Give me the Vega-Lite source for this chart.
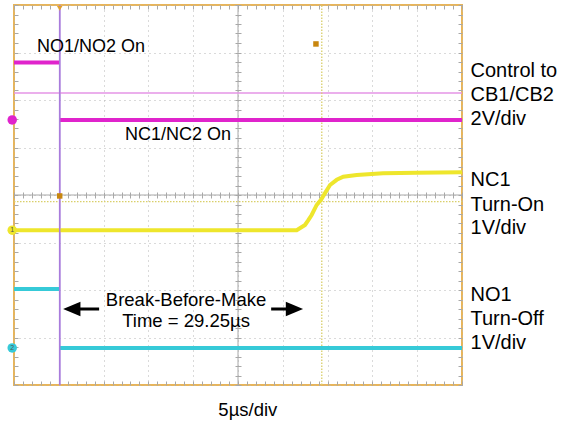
{
  "$schema": "https://vega.github.io/schema/vega-lite/v6.json",
  "width": 448,
  "height": 380,
  "autosize": {"type": "none"},
  "padding": {"left": 14, "top": 5, "right": 108, "bottom": 40},
  "background": "white",
  "config": {"view": {"stroke": "#E8B55A", "strokeWidth": 2}, "font": "Liberation Sans"},
  "resolve": {"axis": {"x": "independent", "y": "independent"}, "scale": {"color": "independent"}},
  "datasets": {
    "center": [
      {"x": 0, "x2": 50, "y": 0, "y2": 0},
      {"x": 25, "x2": 25, "y": -4, "y2": 4}
    ],
    "cursorsSolid": [
      {"name": "ctrl", "x": 5.1, "x2": 5.1, "y": -4, "y2": 4},
      {"name": "level", "x": 0, "x2": 50, "y": 2.15, "y2": 2.15}
    ],
    "cursorsDotted": [
      {"name": "v", "x": 34.35, "x2": 34.35, "y": -4, "y2": 4},
      {"name": "h", "x": 0, "x2": 50, "y": -0.14, "y2": -0.14}
    ],
    "traces": [
      {"series": "control", "seg": "c1", "i": 1, "x": 0, "y": 2.79},
      {"series": "control", "seg": "c1", "i": 2, "x": 5.1, "y": 2.79},
      {"series": "control", "seg": "c2", "i": 3, "x": 5.1, "y": 1.58},
      {"series": "control", "seg": "c2", "i": 4, "x": 50, "y": 1.58},
      {"series": "nc1", "seg": "n", "i": 1, "x": 0, "y": -0.74},
      {"series": "nc1", "seg": "n", "i": 2, "x": 31.55, "y": -0.74},
      {"series": "nc1", "seg": "n", "i": 3, "x": 32.48, "y": -0.63},
      {"series": "nc1", "seg": "n", "i": 4, "x": 32.85, "y": -0.53},
      {"series": "nc1", "seg": "n", "i": 5, "x": 33.22, "y": -0.42},
      {"series": "nc1", "seg": "n", "i": 6, "x": 33.78, "y": -0.21},
      {"series": "nc1", "seg": "n", "i": 7, "x": 34.26, "y": -0.1},
      {"series": "nc1", "seg": "n", "i": 8, "x": 34.71, "y": 0.04},
      {"series": "nc1", "seg": "n", "i": 9, "x": 35.27, "y": 0.21},
      {"series": "nc1", "seg": "n", "i": 10, "x": 36.02, "y": 0.32},
      {"series": "nc1", "seg": "n", "i": 11, "x": 36.75, "y": 0.385},
      {"series": "nc1", "seg": "n", "i": 12, "x": 38.25, "y": 0.42},
      {"series": "nc1", "seg": "n", "i": 13, "x": 41.18, "y": 0.457},
      {"series": "nc1", "seg": "n", "i": 14, "x": 45, "y": 0.47},
      {"series": "nc1", "seg": "n", "i": 15, "x": 50, "y": 0.48},
      {"series": "no1", "seg": "o1", "i": 1, "x": 0, "y": -1.98},
      {"series": "no1", "seg": "o1", "i": 2, "x": 5.1, "y": -1.98},
      {"series": "no1", "seg": "o2", "i": 3, "x": 5.1, "y": -3.22},
      {"series": "no1", "seg": "o2", "i": 4, "x": 50, "y": -3.22}
    ],
    "arrows": [
      {"x": 9.5, "x2": 7.0, "y": -2.4},
      {"x": 28.7, "x2": 30.8, "y": -2.4}
    ],
    "headsLeft": [{"x": 6.45, "y": -2.4}],
    "headsRight": [{"x": 31.3, "y": -2.4}],
    "chanMarkers": [
      {"ch": "control", "label": "", "x": -0.2, "y": 1.58},
      {"ch": "nc1", "label": "1", "x": -0.2, "y": -0.74},
      {"ch": "no1", "label": "2", "x": -0.2, "y": -3.22}
    ],
    "orangeMarks": [
      {"x": 33.7, "y": 3.18},
      {"x": 5.1, "y": -0.02}
    ],
    "trigger": [{"x": 5.1, "y": 3.93}],
    "leftTexts": [
      {"x": 2.57, "y": 3.12, "t": "NO1/NO2 On"},
      {"x": 12.39, "y": 1.26, "t": "NC1/NC2 On"}
    ],
    "centerTexts": [
      {"x": 19.2, "y": -2.21, "t": "Break-Before-Make"},
      {"x": 19.2, "y": -2.646, "t": "Time = 29.25µs"},
      {"x": 26.1, "y": -4.53, "t": "5µs/div"}
    ],
    "rightTexts": [
      {"x": 50.95, "y": 2.62, "t": "Control to"},
      {"x": 50.95, "y": 2.11, "t": "CB1/CB2"},
      {"x": 50.95, "y": 1.61, "t": "2V/div"},
      {"x": 50.95, "y": 0.31, "t": "NC1"},
      {"x": 50.95, "y": -0.2, "t": "Turn-On"},
      {"x": 50.95, "y": -0.7, "t": "1V/div"},
      {"x": 50.95, "y": -2.11, "t": "NO1"},
      {"x": 50.95, "y": -2.62, "t": "Turn-Off"},
      {"x": 50.95, "y": -3.12, "t": "1V/div"}
    ]
  },
  "layer": [
    {
      "data": {"name": "center"},
      "mark": {"type": "rule", "color": "#A8A8A8", "strokeWidth": 1},
      "encoding": {
        "x": {"field": "x", "type": "quantitative", "scale": {"domain": [0, 50], "nice": false, "zero": false},
          "axis": {"orient": "bottom", "values": [0, 5, 10, 15, 20, 25, 30, 35, 40, 45, 50], "grid": true, "gridColor": "#B4B4B4", "gridDash": [1, 4], "gridWidth": 1, "ticks": false, "labels": false, "domain": false, "title": null}},
        "x2": {"field": "x2"},
        "y": {"field": "y", "type": "quantitative", "scale": {"domain": [-4, 4], "nice": false, "zero": false},
          "axis": {"orient": "left", "values": [-4, -3, -2, -1, 0, 1, 2, 3, 4], "grid": true, "gridColor": "#B4B4B4", "gridDash": [1, 4], "gridWidth": 1, "ticks": false, "labels": false, "domain": false, "title": null}},
        "y2": {"field": "y2"}
      }
    },
    {
      "data": {"name": "cursorsSolid"},
      "mark": {"type": "rule", "strokeWidth": 1.5},
      "encoding": {
        "x": {"field": "x", "type": "quantitative", "scale": {"domain": [0, 50], "nice": false, "zero": false},
          "axis": {"orient": "top", "offset": -380, "values": [0,1,2,3,4,5,6,7,8,9,10,11,12,13,14,15,16,17,18,19,20,21,22,23,24,25,26,27,28,29,30,31,32,33,34,35,36,37,38,39,40,41,42,43,44,45,46,47,48,49,50], "tickSize": 4, "tickColor": "#A8A8A8", "grid": false, "labels": false, "domain": false, "title": null}},
        "x2": {"field": "x2"},
        "y": {"field": "y", "type": "quantitative", "scale": {"domain": [-4, 4], "nice": false, "zero": false},
          "axis": {"orient": "right", "offset": -448, "values": [-4,-3.8,-3.6,-3.4,-3.2,-3,-2.8,-2.6,-2.4,-2.2,-2,-1.8,-1.6,-1.4,-1.2,-1,-0.8,-0.6,-0.4,-0.2,0,0.2,0.4,0.6,0.8,1,1.2,1.4,1.6,1.8,2,2.2,2.4,2.6,2.8,3,3.2,3.4,3.6,3.8,4], "tickSize": 4, "tickColor": "#A8A8A8", "grid": false, "labels": false, "domain": false, "title": null}},
        "y2": {"field": "y2"},
        "color": {"field": "name", "type": "nominal", "scale": {"domain": ["ctrl", "level"], "range": ["#A97CDC", "#E494E6"]}, "legend": null}
      }
    },
    {
      "data": {"name": "cursorsDotted"},
      "mark": {"type": "rule", "strokeWidth": 1.3, "strokeDash": [1.5, 1.5], "color": "#D9CF6A"},
      "encoding": {
        "x": {"field": "x", "type": "quantitative", "scale": {"domain": [0, 50], "nice": false, "zero": false},
          "axis": {"orient": "bottom", "offset": -380, "values": [0,1,2,3,4,5,6,7,8,9,10,11,12,13,14,15,16,17,18,19,20,21,22,23,24,25,26,27,28,29,30,31,32,33,34,35,36,37,38,39,40,41,42,43,44,45,46,47,48,49,50], "tickSize": 4, "tickColor": "#A8A8A8", "grid": false, "labels": false, "domain": false, "title": null}},
        "x2": {"field": "x2"},
        "y": {"field": "y", "type": "quantitative", "scale": {"domain": [-4, 4], "nice": false, "zero": false},
          "axis": {"orient": "left", "offset": -448, "values": [-4,-3.8,-3.6,-3.4,-3.2,-3,-2.8,-2.6,-2.4,-2.2,-2,-1.8,-1.6,-1.4,-1.2,-1,-0.8,-0.6,-0.4,-0.2,0,0.2,0.4,0.6,0.8,1,1.2,1.4,1.6,1.8,2,2.2,2.4,2.6,2.8,3,3.2,3.4,3.6,3.8,4], "tickSize": 4, "tickColor": "#A8A8A8", "grid": false, "labels": false, "domain": false, "title": null}},
        "y2": {"field": "y2"}
      }
    },
    {
      "data": {"name": "traces"},
      "mark": {"type": "line", "strokeWidth": 4, "clip": true, "interpolate": "linear"},
      "encoding": {
        "x": {"field": "x", "type": "quantitative", "scale": {"domain": [0, 50], "nice": false, "zero": false},
          "axis": {"orient": "bottom", "offset": -193, "values": [0,1,2,3,4,5,6,7,8,9,10,11,12,13,14,15,16,17,18,19,20,21,22,23,24,25,26,27,28,29,30,31,32,33,34,35,36,37,38,39,40,41,42,43,44,45,46,47,48,49,50], "tickSize": 6, "tickColor": "#A8A8A8", "grid": false, "labels": false, "domain": false, "title": null}},
        "y": {"field": "y", "type": "quantitative", "scale": {"domain": [-4, 4], "nice": false, "zero": false},
          "axis": {"orient": "left", "offset": -227, "values": [-4,-3.8,-3.6,-3.4,-3.2,-3,-2.8,-2.6,-2.4,-2.2,-2,-1.8,-1.6,-1.4,-1.2,-1,-0.8,-0.6,-0.4,-0.2,0,0.2,0.4,0.6,0.8,1,1.2,1.4,1.6,1.8,2,2.2,2.4,2.6,2.8,3,3.2,3.4,3.6,3.8,4], "tickSize": 6, "tickColor": "#A8A8A8", "grid": false, "labels": false, "domain": false, "title": null}},
        "color": {"field": "series", "type": "nominal", "scale": {"domain": ["control", "nc1", "no1"], "range": ["#E024CC", "#EEE62C", "#36CAD8"]}, "legend": null},
        "detail": {"field": "seg", "type": "nominal"},
        "order": {"field": "i", "type": "quantitative"}
      }
    },
    {
      "data": {"name": "cursorsSolid"},
      "transform": [{"filter": "datum.name === 'ctrl'"}],
      "mark": {"type": "rule", "strokeWidth": 1.5, "color": "#A97CDC"},
      "encoding": {
        "x": {"field": "x", "type": "quantitative", "scale": {"domain": [0, 50], "nice": false, "zero": false}, "axis": null},
        "x2": {"field": "x2"},
        "y": {"field": "y", "type": "quantitative", "scale": {"domain": [-4, 4], "nice": false, "zero": false}, "axis": null},
        "y2": {"field": "y2"}
      }
    },
    {
      "data": {"name": "arrows"},
      "mark": {"type": "rule", "strokeWidth": 3, "color": "black"},
      "encoding": {
        "x": {"field": "x", "type": "quantitative", "scale": {"domain": [0, 50], "nice": false, "zero": false}, "axis": null},
        "x2": {"field": "x2"},
        "y": {"field": "y", "type": "quantitative", "scale": {"domain": [-4, 4], "nice": false, "zero": false}, "axis": null}
      }
    },
    {
      "data": {"name": "headsLeft"},
      "mark": {"type": "point", "shape": "M-1,0L1,-0.85L1,0.85Z", "size": 300, "filled": true, "color": "black", "opacity": 1},
      "encoding": {
        "x": {"field": "x", "type": "quantitative", "scale": {"domain": [0, 50], "nice": false, "zero": false}, "axis": null},
        "y": {"field": "y", "type": "quantitative", "scale": {"domain": [-4, 4], "nice": false, "zero": false}, "axis": null}
      }
    },
    {
      "data": {"name": "headsRight"},
      "mark": {"type": "point", "shape": "M1,0L-1,-0.85L-1,0.85Z", "size": 300, "filled": true, "color": "black", "opacity": 1},
      "encoding": {
        "x": {"field": "x", "type": "quantitative", "scale": {"domain": [0, 50], "nice": false, "zero": false}, "axis": null},
        "y": {"field": "y", "type": "quantitative", "scale": {"domain": [-4, 4], "nice": false, "zero": false}, "axis": null}
      }
    },
    {
      "data": {"name": "chanMarkers"},
      "mark": {"type": "point", "shape": "circle", "size": 90, "filled": true, "opacity": 1},
      "encoding": {
        "x": {"field": "x", "type": "quantitative", "scale": {"domain": [0, 50], "nice": false, "zero": false}, "axis": null},
        "y": {"field": "y", "type": "quantitative", "scale": {"domain": [-4, 4], "nice": false, "zero": false}, "axis": null},
        "color": {"field": "ch", "type": "nominal", "scale": {"domain": ["control", "nc1", "no1"], "range": ["#E024CC", "#EEE62C", "#36CAD8"]}, "legend": null}
      }
    },
    {
      "data": {"name": "chanMarkers"},
      "mark": {"type": "text", "fontSize": 7, "color": "#555555", "align": "center", "baseline": "middle"},
      "encoding": {
        "x": {"field": "x", "type": "quantitative", "scale": {"domain": [0, 50], "nice": false, "zero": false}, "axis": null},
        "y": {"field": "y", "type": "quantitative", "scale": {"domain": [-4, 4], "nice": false, "zero": false}, "axis": null},
        "text": {"field": "label"}
      }
    },
    {
      "data": {"name": "orangeMarks"},
      "mark": {"type": "point", "shape": "square", "size": 30, "filled": true, "color": "#C8860E", "opacity": 1},
      "encoding": {
        "x": {"field": "x", "type": "quantitative", "scale": {"domain": [0, 50], "nice": false, "zero": false}, "axis": null},
        "y": {"field": "y", "type": "quantitative", "scale": {"domain": [-4, 4], "nice": false, "zero": false}, "axis": null}
      }
    },
    {
      "data": {"name": "trigger"},
      "mark": {"type": "point", "shape": "triangle-down", "size": 30, "filled": true, "color": "#E0A030", "opacity": 1},
      "encoding": {
        "x": {"field": "x", "type": "quantitative", "scale": {"domain": [0, 50], "nice": false, "zero": false}, "axis": null},
        "y": {"field": "y", "type": "quantitative", "scale": {"domain": [-4, 4], "nice": false, "zero": false}, "axis": null}
      }
    },
    {
      "data": {"name": "leftTexts"},
      "mark": {"type": "text", "fontSize": 18, "color": "black", "align": "left", "baseline": "middle", "font": "Liberation Sans"},
      "encoding": {
        "x": {"field": "x", "type": "quantitative", "scale": {"domain": [0, 50], "nice": false, "zero": false}, "axis": null},
        "y": {"field": "y", "type": "quantitative", "scale": {"domain": [-4, 4], "nice": false, "zero": false}, "axis": null},
        "text": {"field": "t"}
      }
    },
    {
      "data": {"name": "centerTexts"},
      "mark": {"type": "text", "fontSize": 18.5, "color": "black", "align": "center", "baseline": "middle", "font": "Liberation Sans"},
      "encoding": {
        "x": {"field": "x", "type": "quantitative", "scale": {"domain": [0, 50], "nice": false, "zero": false}, "axis": null},
        "y": {"field": "y", "type": "quantitative", "scale": {"domain": [-4, 4], "nice": false, "zero": false}, "axis": null},
        "text": {"field": "t"}
      }
    },
    {
      "data": {"name": "rightTexts"},
      "mark": {"type": "text", "fontSize": 20, "color": "black", "align": "left", "baseline": "middle", "font": "Liberation Sans"},
      "encoding": {
        "x": {"field": "x", "type": "quantitative", "scale": {"domain": [0, 50], "nice": false, "zero": false}, "axis": null},
        "y": {"field": "y", "type": "quantitative", "scale": {"domain": [-4, 4], "nice": false, "zero": false}, "axis": null},
        "text": {"field": "t"}
      }
    }
  ]
}
